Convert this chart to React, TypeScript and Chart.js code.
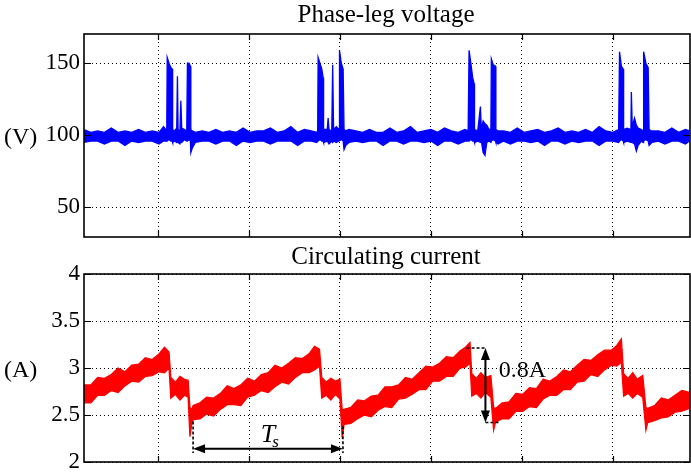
import React, { useEffect, useRef } from "react";
import { Chart, registerables } from "chart.js";

Chart.register(...registerables);

const SERIF = '"Liberation Serif", "Times New Roman", Times, serif';
const W = 691;

// ---- time axis (µs, grid every 20) ----
const timeMin = -16.3;
const timeMax = 117;
const timeGrid = [0, 20, 40, 60, 80, 100];

// ---- y axes ----
const voltageMin = 29.4;
const voltageMax = 170.3;
const voltageTicks = [50, 100, 150];
const voltageTickLabels = ["50", "100", "150"];

const currentMin = 2;
const currentMax = 4;
const currentTicks = [2, 2.5, 3, 3.5, 4];
const currentTickLabels = ["2", "2.5", "3", "3.5", "4"];

// ---- phase-leg voltage trace (upper / lower envelope of the noisy trace) ----
const voltageTime = [
  -16.3, -14.8, -13.3, -11.8, -10.3, -8.8, -7.3, -5.8, -4.3, -2.8, -1.3, 0.2, 1.2, 1.9,
  2.0, 2.4, 2.8, 3.1, 3.2, 3.6, 4.1, 4.25, 4.4, 4.8, 5.0, 5.2, 5.8, 6.3, 6.45, 6.8, 7.1, 7.2, 7.5, 8.2,
  9.7, 11.2, 12.7, 14.2, 15.7, 17.2, 18.7, 20.2, 21.7, 23.2, 24.7, 26.2, 27.7, 29.2, 30.7, 32.2, 33.7, 34.9,
  35.1, 35.2, 35.6, 36.0, 36.3, 36.4, 37.2, 37.4, 37.6, 38.2, 38.4, 38.6, 39.2, 39.8, 39.9, 40.3, 40.7, 40.9, 41.3, 42.0,
  43.5, 45.0, 46.5, 48.0, 49.5, 51.0, 52.5, 54.0, 55.5, 57.0, 58.5, 60.0, 61.5, 63.0, 64.5, 66.0, 67.5, 68.2,
  68.4, 68.8, 69.2, 69.5, 69.6, 70.3, 70.9, 71.1, 71.5, 71.9, 72.3, 72.8, 73.2, 73.3, 73.7, 74.2, 74.3, 74.8,
  76.0, 77.5, 79.0, 80.5, 82.0, 83.5, 85.0, 86.5, 88.0, 89.5, 91.0, 92.5, 94.0, 95.5, 97.0, 98.5, 100.0, 101.3,
  101.5, 101.9, 102.3, 102.4, 103.2, 104.0, 104.1, 104.3, 104.8, 105.2, 105.6, 106.3, 106.7, 106.8, 107.3, 107.8, 108.0, 108.6,
  110.0, 111.5, 113.0, 114.5, 116.0, 116.9,
];
const voltageUpper = [
  104, 102, 103, 102, 105, 102, 103, 102, 104, 102, 103, 102, 106, 103,
  154, 150, 147, 146, 104, 103, 105, 141, 104, 103, 124, 105, 104, 103, 150, 150, 148, 104, 103, 102,
  103, 102, 104, 102, 103, 102, 105, 102, 103, 103, 105, 102, 103, 106, 102, 104, 103, 102,
  103, 154, 150, 146, 140, 104, 104, 112, 104, 103, 149, 104, 106, 104, 159, 150, 146, 104, 103, 104,
  103, 102, 104, 102, 102, 105, 102, 103, 106, 102, 103, 104, 102, 105, 103, 102, 104, 103,
  159, 150, 140, 136, 104, 103, 120, 104, 110, 108, 107, 104, 104, 153, 149, 148, 104, 103,
  103, 102, 105, 102, 103, 104, 102, 103, 105, 102, 103, 102, 104, 102, 106, 103, 102, 104,
  158, 148, 146, 104, 105, 104, 130, 106, 112, 107, 105, 104, 103, 158, 150, 147, 104, 103,
  103, 102, 105, 102, 104, 103,
];
const voltageLower = [
  95, 96, 96, 94, 96, 96, 93, 96, 95, 96, 96, 94, 96, 96,
  96, 97, 96, 96, 95, 96, 95, 96, 95, 94, 96, 95, 97, 96, 96, 97, 96, 88, 91, 95,
  96, 96, 94, 96, 96, 93, 96, 95, 96, 96, 94, 96, 96, 96, 93, 96, 96, 95,
  96, 96, 97, 96, 96, 95, 96, 95, 94, 96, 95, 96, 95, 96, 96, 97, 96, 90, 93, 95,
  96, 95, 96, 96, 93, 96, 96, 94, 96, 96, 95, 96, 93, 96, 96, 94, 96, 96,
  96, 97, 96, 96, 95, 96, 95, 96, 88, 86, 95, 96, 95, 96, 97, 96, 95, 94,
  96, 94, 96, 96, 95, 96, 93, 96, 96, 94, 96, 95, 96, 96, 93, 96, 96, 95,
  96, 97, 96, 95, 96, 95, 96, 95, 94, 89, 93, 96, 95, 96, 97, 96, 93, 95,
  96, 94, 96, 96, 94, 96,
];

// ---- circulating current trace (upper / lower envelope of the noisy trace) ----
const currentTime = [
  -16.3, -14.8, -13.3, -11.8, -10.3, -8.8, -7.3, -5.8, -4.3, -2.8, -1.3, 0.2, 1.4, 2.4,
  2.8, 3.8, 4.8, 5.8, 6.6, 7.0, 7.4, 7.7,
  9.2, 10.7, 12.2, 13.7, 15.2, 16.7, 18.2, 19.7, 21.2, 22.7, 24.2, 25.7, 27.2, 28.7, 30.2, 31.7, 33.2, 34.4, 35.5,
  36.0, 37.0, 38.0, 39.0, 40.0, 40.5, 40.9,
  42.4, 43.9, 45.4, 46.9, 48.4, 49.9, 51.4, 52.9, 54.4, 55.9, 57.4, 58.9, 60.4, 61.9, 63.4, 64.9, 66.4, 67.6, 68.6,
  69.0, 70.0, 71.0, 72.0, 73.2, 73.8, 74.2,
  75.7, 77.2, 78.7, 80.2, 81.7, 83.2, 84.7, 86.2, 87.7, 89.2, 90.7, 92.2, 93.7, 95.2, 96.7, 98.2, 99.7, 100.9, 101.9,
  102.4, 103.4, 104.4, 105.4, 106.6, 107.3, 107.7,
  109.2, 110.7, 112.2, 113.7, 115.2, 116.9,
];
const currentUpper = [
  2.82, 2.82, 2.90, 2.89, 2.93, 3.00, 2.96, 3.03, 3.04, 3.11, 3.09, 3.15, 3.22, 3.17,
  2.90, 2.85, 2.91, 2.88, 2.87, 2.58, 2.56, 2.60,
  2.63, 2.69, 2.68, 2.73, 2.81, 2.78, 2.82, 2.89, 2.86, 2.93, 2.95, 3.03, 3.00, 3.05, 3.11, 3.10, 3.15, 3.23, 3.20,
  2.90, 2.85, 2.89, 2.86, 2.88, 2.55, 2.56,
  2.58, 2.66, 2.65, 2.70, 2.71, 2.80, 2.80, 2.82, 2.90, 2.88, 2.95, 3.02, 3.01, 3.05, 3.12, 3.11, 3.18, 3.22, 3.27,
  2.94, 2.89, 2.95, 2.90, 2.92, 2.58, 2.57,
  2.63, 2.64, 2.73, 2.72, 2.79, 2.78, 2.88, 2.86, 2.91, 2.98, 2.96, 3.03, 3.09, 3.08, 3.14, 3.19, 3.19, 3.24, 3.31,
  2.94, 2.89, 2.95, 2.88, 2.92, 2.58, 2.57,
  2.60, 2.68, 2.66, 2.71, 2.76, 2.74,
];
const currentLower = [
  2.63, 2.63, 2.71, 2.71, 2.76, 2.74, 2.81, 2.86, 2.85, 2.91, 2.92, 2.96, 2.95, 3.00,
  2.68, 2.72, 2.66, 2.71, 2.69, 2.27, 2.40, 2.45,
  2.46, 2.51, 2.49, 2.56, 2.61, 2.61, 2.60, 2.69, 2.71, 2.76, 2.74, 2.80, 2.85, 2.83, 2.90, 2.95, 2.95, 2.98, 3.02,
  2.68, 2.71, 2.66, 2.72, 2.67, 2.25, 2.40,
  2.41, 2.46, 2.50, 2.48, 2.55, 2.59, 2.58, 2.67, 2.68, 2.72, 2.77, 2.77, 2.86, 2.86, 2.91, 2.91, 3.00, 3.01, 3.05,
  2.70, 2.73, 2.68, 2.74, 2.69, 2.34, 2.42,
  2.46, 2.46, 2.54, 2.54, 2.59, 2.58, 2.67, 2.71, 2.71, 2.77, 2.77, 2.85, 2.86, 2.93, 2.91, 2.98, 3.03, 3.02, 3.06,
  2.70, 2.73, 2.68, 2.73, 2.69, 2.34, 2.42,
  2.44, 2.47, 2.48, 2.53, 2.54, 2.57,
];

// ---- annotations (data coordinates) ----
const tsStart = 7.69;
const tsEnd = 40.66;
const tsLevel = 2.141;
const tsGuideBottom = 2.096;
const tsGuideTopStart = 2.432;
const tsGuideTopEnd = 2.38;
const tsLabelAt = [22.6, 2.213];

const ppTime = 72.0;
const ppTop = 3.213;
const ppBottom = 2.421;
const ppTopGuideFrom = 67.85;
const ppBottomGuideTo = 75.17;
const ppLabelAt = [74.95, 2.907];
const ppLabel = "0.8A";

type Spec = {
  title: string;
  titleBaseline: number;
  unit: string;
  unitAt: number;
  yMin: number;
  yMax: number;
  yTicks: number[];
  yLabels: string[];
  time: number[];
  upper: number[];
  lower: number[];
  color: string;
  padBottom: number;
  annotate?: (ctx: CanvasRenderingContext2D, px: (v: number) => number, py: (v: number) => number) => void;
};

function arrowHead(ctx: CanvasRenderingContext2D, xt: number, yt: number, dx: number, dy: number) {
  const len = 12;
  const hw = 4.5;
  const bx = xt - dx * len;
  const by = yt - dy * len;
  ctx.beginPath();
  ctx.moveTo(xt, yt);
  ctx.lineTo(bx - dy * hw, by + dx * hw);
  ctx.lineTo(bx + dy * hw, by - dx * hw);
  ctx.closePath();
  ctx.fill();
}

function doubleArrow(ctx: CanvasRenderingContext2D, x1: number, y1: number, x2: number, y2: number) {
  const d = Math.hypot(x2 - x1, y2 - y1);
  const dx = (x2 - x1) / d;
  const dy = (y2 - y1) / d;
  ctx.setLineDash([]);
  ctx.lineWidth = 2;
  ctx.beginPath();
  ctx.moveTo(x1 + dx * 6, y1 + dy * 6);
  ctx.lineTo(x2 - dx * 6, y2 - dy * 6);
  ctx.stroke();
  arrowHead(ctx, x2, y2, dx, dy);
  arrowHead(ctx, x1, y1, -dx, -dy);
}

function annotateCurrent(ctx: CanvasRenderingContext2D, px: (v: number) => number, py: (v: number) => number) {
  ctx.strokeStyle = "#000";
  ctx.fillStyle = "#000";
  ctx.lineWidth = 1.6;
  ctx.setLineDash([3, 2]);
  ctx.beginPath();
  ctx.moveTo(px(tsStart), py(tsGuideTopStart));
  ctx.lineTo(px(tsStart), py(tsGuideBottom));
  ctx.moveTo(px(tsEnd), py(tsGuideTopEnd));
  ctx.lineTo(px(tsEnd), py(tsGuideBottom));
  ctx.moveTo(px(ppTopGuideFrom), py(ppTop));
  ctx.lineTo(px(ppTime), py(ppTop));
  ctx.moveTo(px(ppTime), py(ppBottom));
  ctx.lineTo(px(ppBottomGuideTo), py(ppBottom));
  ctx.stroke();
  doubleArrow(ctx, px(tsStart), py(tsLevel), px(tsEnd), py(tsLevel));
  doubleArrow(ctx, px(ppTime), py(ppTop), px(ppTime), py(ppBottom));
  ctx.textAlign = "left";
  ctx.textBaseline = "alphabetic";
  ctx.font = `italic 26px ${SERIF}`;
  const tx = px(tsLabelAt[0]);
  const ty = py(tsLabelAt[1]);
  ctx.fillText("T", tx, ty);
  const tw = ctx.measureText("T").width;
  ctx.font = `italic 17px ${SERIF}`;
  ctx.fillText("s", tx + tw - 3, ty + 5);
  ctx.font = `24px ${SERIF}`;
  ctx.fillText(ppLabel, px(ppLabelAt[0]), py(ppLabelAt[1]));
}

const voltageSpec: Spec = {
  title: "Phase-leg voltage",
  titleBaseline: 22,
  unit: "(V)",
  unitAt: 100,
  yMin: voltageMin,
  yMax: voltageMax,
  yTicks: voltageTicks,
  yLabels: voltageTickLabels,
  time: voltageTime,
  upper: voltageUpper,
  lower: voltageLower,
  color: "#0000ff",
  padBottom: 3,
};

const currentSpec: Spec = {
  title: "Circulating current",
  titleBaseline: 24,
  unit: "(A)",
  unitAt: 3,
  yMin: currentMin,
  yMax: currentMax,
  yTicks: currentTicks,
  yLabels: currentTickLabels,
  time: currentTime,
  upper: currentUpper,
  lower: currentLower,
  color: "#ff0000",
  padBottom: 12,
  annotate: annotateCurrent,
};

function buildConfig(spec: Spec): any {
  const upperPts = spec.time.map((t, i) => ({ x: t, y: spec.upper[i] }));
  const lowerPts = spec.time.map((t, i) => ({ x: t, y: spec.lower[i] }));
  const decor = {
    id: "decor",
    afterDatasetsDraw(chart: any) {
      const { ctx, chartArea: a, scales } = chart;
      const xs = scales.x;
      const ys = scales.y;
      const px = (v: number) => xs.getPixelForValue(v);
      const py = (v: number) => ys.getPixelForValue(v);
      ctx.save();
      ctx.setLineDash([]);
      ctx.strokeStyle = "#000";
      ctx.lineWidth = 1.6;
      ctx.strokeRect(a.left, a.top, a.right - a.left, a.bottom - a.top);
      ctx.lineWidth = 1.2;
      ctx.beginPath();
      for (const v of timeGrid) {
        const x = Math.round(px(v)) + 0.5;
        ctx.moveTo(x, a.bottom);
        ctx.lineTo(x, a.bottom - 6);
        ctx.moveTo(x, a.top);
        ctx.lineTo(x, a.top + 6);
      }
      for (const v of spec.yTicks) {
        const y = Math.round(py(v)) + 0.5;
        ctx.moveTo(a.left, y);
        ctx.lineTo(a.left + 7, y);
        ctx.moveTo(a.right, y);
        ctx.lineTo(a.right - 7, y);
      }
      ctx.stroke();
      ctx.fillStyle = "#000";
      ctx.textBaseline = "alphabetic";
      ctx.textAlign = "center";
      ctx.font = `25px ${SERIF}`;
      ctx.fillText(spec.title, (a.left + a.right) / 2 - 1, spec.titleBaseline);
      ctx.textAlign = "left";
      ctx.font = `24px ${SERIF}`;
      ctx.fillText(spec.unit, 4, py(spec.unitAt) + 9);
      if (spec.annotate) spec.annotate(ctx, px, py);
      ctx.restore();
    },
  };
  const gridOpts = { color: "#000", lineWidth: 1, drawTicks: false };
  const borderOpts = { display: false, dash: [1, 3] };
  return {
    type: "line",
    data: {
      datasets: [
        {
          data: upperPts,
          borderColor: spec.color,
          backgroundColor: spec.color,
          borderWidth: 1.3,
          pointRadius: 0,
          tension: 0,
          fill: "+1",
        },
        {
          data: lowerPts,
          borderColor: spec.color,
          backgroundColor: spec.color,
          borderWidth: 1.3,
          pointRadius: 0,
          tension: 0,
          fill: false,
        },
      ],
    },
    options: {
      animation: false,
      responsive: false,
      maintainAspectRatio: false,
      devicePixelRatio: 1,
      events: [],
      layout: { padding: { top: 34, left: 0, right: 1, bottom: spec.padBottom } },
      plugins: {
        legend: { display: false },
        tooltip: { enabled: false },
        title: { display: false },
      },
      scales: {
        x: {
          type: "linear",
          min: timeMin,
          max: timeMax,
          grid: gridOpts,
          border: borderOpts,
          ticks: { display: false },
          afterBuildTicks: (s: any) => {
            s.ticks = timeGrid.map((v) => ({ value: v }));
          },
          afterFit: (s: any) => {
            s.height = 0;
            s.paddingLeft = 0;
            s.paddingRight = 0;
            s.paddingTop = 0;
            s.paddingBottom = 0;
          },
        },
        y: {
          type: "linear",
          min: spec.yMin,
          max: spec.yMax,
          grid: gridOpts,
          border: borderOpts,
          ticks: {
            autoSkip: false,
            padding: 4,
            color: "#000",
            font: { family: SERIF, size: 23 },
            callback: (_v: any, i: number) => spec.yLabels[i],
          },
          afterBuildTicks: (s: any) => {
            s.ticks = spec.yTicks.map((v) => ({ value: v }));
          },
          afterFit: (s: any) => {
            s.width = 84;
            s.paddingTop = 0;
            s.paddingBottom = 0;
            s.paddingLeft = 0;
            s.paddingRight = 0;
          },
        },
      },
    },
    plugins: [decor],
  };
}

function Panel({ spec, top, height }: { spec: Spec; top: number; height: number }) {
  const ref = useRef<HTMLCanvasElement>(null);
  useEffect(() => {
    if (!ref.current) return;
    const chart = new Chart(ref.current, buildConfig(spec));
    return () => chart.destroy();
  }, [spec]);
  return (
    <canvas
      ref={ref}
      width={W}
      height={height}
      style={{ position: "absolute", left: 0, top, width: W, height, display: "block" }}
    />
  );
}

export default function App() {
  return (
    <div
      style={{
        position: "fixed",
        left: 0,
        top: 0,
        width: W,
        height: 474,
        background: "#fff",
        overflow: "hidden",
      }}
    >
      <Panel spec={voltageSpec} top={0} height={240} />
      <Panel spec={currentSpec} top={240} height={234} />
    </div>
  );
}
